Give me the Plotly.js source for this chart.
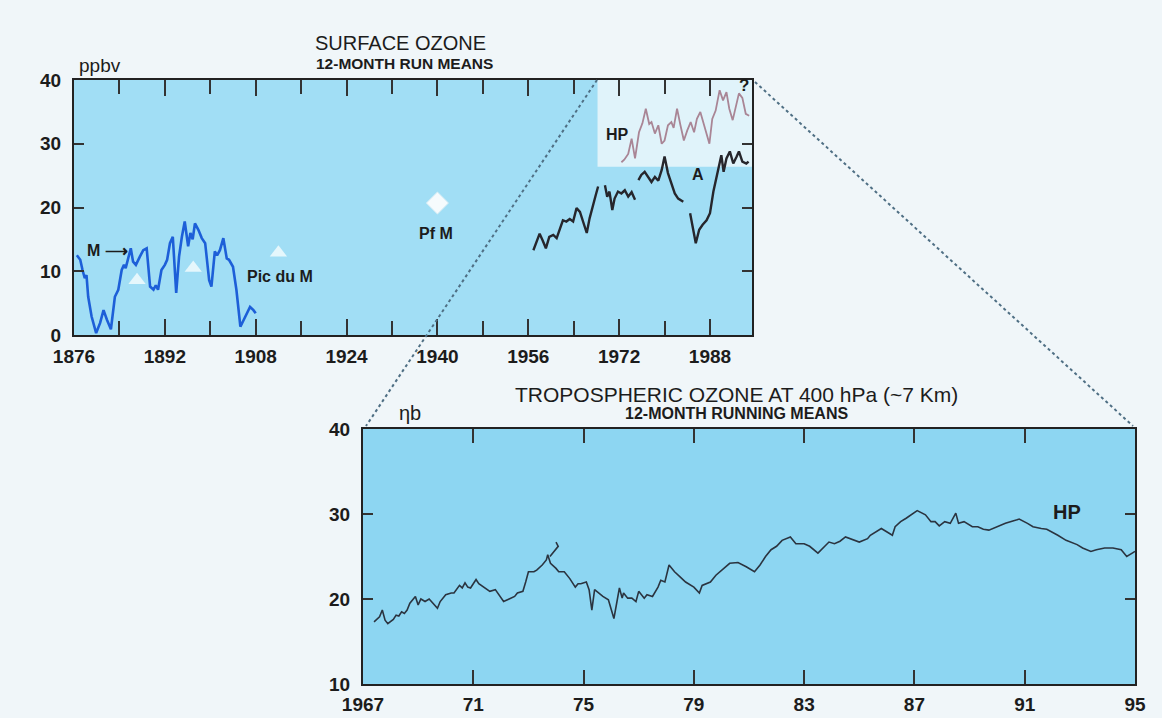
<!DOCTYPE html>
<html>
<head>
<meta charset="utf-8">
<script src="https://cdn.plot.ly/plotly-3.0.1.min.js"></script>
<style>
  html, body { margin: 0; padding: 0; background: #f0f6f9; }
  #chart { width: 1162px; height: 718px; }
</style>
</head>
<body>
<div id="chart"></div>
<script>
// ---- Surface ozone, 12-month running means (ppbv) ----
// Montsouris (Paris), 1876-1910
const montsourisYears = [1876.5,1877.1,1877.5,1877.9,1878.2,1878.5,1879.1,1879.9,1880.6,1881.2,1881.8,1882.5,1883.2,1883.8,1884.4,1884.8,1885.1,1885.6,1886.0,1886.4,1886.9,1887.6,1888.2,1888.8,1889.4,1890.0,1890.4,1890.8,1891.4,1892.0,1892.4,1892.9,1893.4,1894.0,1894.5,1895.0,1895.5,1896.1,1896.5,1896.9,1897.3,1897.9,1898.5,1899.1,1899.4,1899.8,1900.2,1900.8,1901.2,1901.7,1902.3,1902.9,1903.3,1904.0,1904.6,1905.3,1905.9,1906.4,1907.0,1907.6,1908.0];
const montsourisVals  = [12.5,11.8,10.2,8.9,9.4,6.0,2.9,0.3,1.9,3.9,2.4,0.9,6.0,7.1,10.2,11.0,10.5,12.1,13.6,11.5,11.0,12.3,13.3,13.6,7.6,7.1,7.8,7.1,10.2,11.0,11.8,14.4,15.4,6.6,12.3,15.4,17.8,13.9,16.0,15.0,17.5,16.5,15.2,14.4,12.3,8.6,7.6,13.1,12.5,13.3,15.2,12.0,11.8,10.7,7.1,1.3,2.4,3.4,4.4,3.9,3.4];

// Pic du Midi spot values
const picYears = [1887.1, 1897.0, 1912.0];
const picVals  = [8.6, 10.5, 12.9];

// Pfänder / Mont spot value
const pfmYears = [1940];
const pfmVals  = [20.7];

// Arkona series (gaps marked with null)
const arkonaYears = [1956.9,1957.5,1958.0,1958.5,1959.1,1959.7,1960.4,1961.0,1961.6,1962.1,1962.7,1963.3,1963.9,1964.5,1965.1,1965.7,1966.3,1966.8,1967.4,1967.9,1968.3,1968.9,
  1969.5,1969.9,1970.3,1970.8,1971.2,1971.8,1972.4,1973.0,1973.6,1974.2,1974.8,1975.1,
  1975.4,1975.9,1976.5,1977.1,1977.7,1978.3,1978.9,1979.5,1980.0,1980.6,1981.2,1981.8,1982.4,1983.3,1983.9,
  1984.5,1985.0,1985.5,1986.1,1986.7,1987.4,1988.0,1988.6,1989.1,1989.6,1990.0,1990.4,1990.9,1991.5,1992.1,1992.7,1993.1,1993.7,1994.4,1994.8];
const arkonaVals  = [13.3,14.9,15.9,14.9,13.6,15.4,15.7,15.2,16.7,18.0,17.8,18.2,17.8,19.9,19.3,17.5,16.0,18.3,20.1,22.0,23.3,null,
  23.5,21.7,22.5,19.6,21.4,22.5,22.2,22.7,21.7,22.4,21.2,null,
  24.3,25.1,25.6,24.8,24.0,24.8,24.2,25.9,28.0,25.4,23.8,22.2,21.4,20.9,null,
  19.1,17.0,14.4,16.5,17.3,18.0,19.1,22.5,24.5,26.7,28.2,25.6,27.7,28.8,26.9,28.0,28.8,27.2,26.9,27.2];

// Hohenpeissenberg surface series
const hpSurfYears = [1972.4,1972.9,1973.6,1974.2,1974.8,1975.5,1976.1,1976.7,1977.3,1977.7,1978.3,1978.9,1979.5,1980.0,1980.6,1981.2,1981.6,1982.2,1982.8,1983.4,1984.0,1984.6,1985.2,1985.7,1986.3,1987.1,1987.9,1988.4,1989.0,1989.7,1990.3,1990.9,1991.4,1992.0,1992.6,1993.1,1993.7,1994.3,1994.9];
const hpSurfVals  = [27.1,27.5,28.4,30.8,27.7,31.8,33.2,35.5,33.1,33.4,31.6,32.9,30.0,30.5,32.9,33.4,32.5,35.5,32.9,30.5,32.1,33.4,31.8,33.9,35.0,32.4,30.0,33.9,35.2,38.4,36.8,38.1,35.5,33.7,36.3,37.9,37.2,34.7,34.4];

// ---- Tropospheric ozone at 400 hPa, Hohenpeissenberg (nb) ----
const hpTropYears = [1967.4,1967.6,1967.7,1967.8,1967.9,1968.1,1968.2,1968.3,1968.4,1968.5,1968.6,1968.7,1968.9,1969.0,1969.1,1969.25,1969.4,1969.55,1969.7,1969.8,1970.0,1970.2,1970.3,1970.5,1970.6,1970.7,1970.8,1970.9,1971.1,1971.2,1971.4,1971.6,1971.8,1971.9,1972.1,1972.3,1972.5,1972.6,1972.8,1972.9,1973.0,1973.2,1973.3,1973.5,1973.65,1973.7,1973.8,1974.0,1974.1,1974.3,1974.5,1974.7,1974.8,1974.9,1975.1,1975.2,1975.3,1975.4,1975.55,1975.7,1975.9,1976.1,1976.2,1976.3,1976.4,1976.45,1976.6,1976.75,1976.9,1977.0,1977.2,1977.3,1977.5,1977.7,1977.8,1977.95,1978.1,1978.3,1978.5,1978.7,1979.0,1979.2,1979.3,1979.6,1979.8,1980.1,1980.3,1980.6,1980.9,1981.2,1981.4,1981.6,1981.8,1982.0,1982.2,1982.5,1982.7,1983.0,1983.2,1983.5,1983.7,1983.9,1984.1,1984.3,1984.5,1984.8,1985.0,1985.3,1985.4,1985.8,1986.0,1986.2,1986.3,1986.5,1986.7,1986.9,1987.1,1987.4,1987.6,1987.75,1987.9,1988.1,1988.3,1988.5,1988.6,1988.8,1988.95,1989.1,1989.3,1989.5,1989.7,1990.0,1990.3,1990.6,1990.8,1991.1,1991.3,1991.6,1991.8,1992.2,1992.5,1992.9,1993.1,1993.4,1993.6,1993.9,1994.2,1994.5,1994.7,1994.9,1995.0];
const hpTropVals  = [17.3,17.9,18.7,17.5,17.1,17.6,18.1,18.0,18.5,18.3,18.7,19.5,20.3,19.3,20.0,19.7,20.0,19.5,18.9,19.7,20.5,20.7,20.7,21.6,21.3,21.9,21.4,21.3,22.3,21.8,21.4,20.9,21.1,20.6,19.7,20.0,20.3,20.7,20.9,22.0,23.2,23.2,23.4,24.0,24.6,25.2,24.2,23.6,23.2,23.2,22.4,21.4,21.8,21.8,22.0,21.1,18.7,21.1,20.7,20.3,19.9,17.7,19.5,21.3,20.1,20.7,20.1,20.1,19.7,20.9,20.1,20.5,20.3,21.4,22.2,22.0,24.0,23.2,22.6,22.0,21.4,20.7,21.6,22.0,22.8,23.6,24.2,24.3,23.8,23.2,24.0,25.0,25.8,26.2,26.9,27.3,26.5,26.5,26.2,25.4,26.0,26.7,26.5,26.8,27.3,26.9,26.7,27.1,27.5,28.3,27.9,27.5,28.5,29.1,29.5,29.9,30.4,29.9,29.1,29.1,28.6,29.1,28.9,30.1,28.9,29.1,28.8,28.5,28.5,28.2,28.1,28.5,28.9,29.2,29.4,28.9,28.5,28.3,28.2,27.5,26.9,26.4,26.0,25.6,25.8,26.0,26.0,25.8,25.0,25.4,25.6];

// short hooked trace drawn off the 1974 peak
const hookYears = [1973.78, 1974.08, 1974.0];
const hookVals  = [25.0, 26.2, 26.7];

// tick labels of the lower panel
const tropTickYears = [1967, 1971, 1975, 1979, 1983, 1987, 1991, 1995];
const tropTickText  = ['1967', '71', '75', '79', '83', '87', '91', '95'];

// ---- page geometry (pixels -> paper fractions, zero margins) ----
const W = 1162, H = 718;
const px = x => x / W;
const py = y => 1 - y / H;

const FONT = 'Liberation Sans, Arial, sans-serif';
const INK = '#1c1c1c';

const traces = [
  { x: montsourisYears, y: montsourisVals, xaxis: 'x', yaxis: 'y', mode: 'lines',
    line: { color: '#1d5fd8', width: 2.6 }, hoverinfo: 'skip' },
  { x: picYears, y: picVals, xaxis: 'x', yaxis: 'y', mode: 'markers',
    marker: { symbol: 'triangle-up', size: 15, color: 'rgba(236,249,253,0.9)', line: { width: 0 } }, hoverinfo: 'skip' },
  { x: pfmYears, y: pfmVals, xaxis: 'x', yaxis: 'y', mode: 'markers',
    marker: { symbol: 'diamond', size: 17, color: '#f6fbfd', line: { color: '#d6ecf4', width: 1 } }, hoverinfo: 'skip' },
  { x: arkonaYears, y: arkonaVals, xaxis: 'x', yaxis: 'y', mode: 'lines', connectgaps: false,
    line: { color: '#26262c', width: 2.4 }, hoverinfo: 'skip' },
  { x: hpSurfYears, y: hpSurfVals, xaxis: 'x', yaxis: 'y', mode: 'lines',
    line: { color: '#a98595', width: 1.8 }, hoverinfo: 'skip' },
  { x: hpTropYears, y: hpTropVals, xaxis: 'x2', yaxis: 'y2', mode: 'lines',
    line: { color: '#2b3440', width: 1.6 }, hoverinfo: 'skip' },
  { x: hookYears, y: hookVals, xaxis: 'x2', yaxis: 'y2', mode: 'lines',
    line: { color: '#2b3440', width: 1.6 }, hoverinfo: 'skip' }
];

const axisCommon = {
  showline: true, linecolor: '#222', linewidth: 2, mirror: 'allticks',
  ticks: 'inside', tickwidth: 2, tickcolor: '#333',
  showgrid: false, zeroline: false, fixedrange: true,
  tickfont: { family: FONT, size: 19, color: INK, weight: 'bold' }
};

// centred text label at a pixel position
const annText = (text, x, y, size, opts = {}) => Object.assign({
  text, x: px(x), y: py(y), xref: 'paper', yref: 'paper',
  xanchor: 'center', yanchor: 'middle',
  showarrow: false, font: { family: FONT, size, color: INK }
}, opts);
const bold = size => ({ family: FONT, size, color: INK, weight: 'bold' });

const layout = {
  width: W, height: H,
  margin: { l: 0, r: 0, t: 0, b: 0 },
  paper_bgcolor: '#f0f6f9',
  plot_bgcolor: '#a1def5',
  showlegend: false,
  xaxis: Object.assign({}, axisCommon, {
    domain: [px(74), px(752)], range: [1876, 1995.4],
    tick0: 1876, dtick: 16, ticklen: 16, ticklabelstandoff: 3,
    minor: { tick0: 1876, dtick: 8, ticks: 'inside', ticklen: 14, tickwidth: 2, tickcolor: '#333' },
    anchor: 'y'
  }),
  yaxis: Object.assign({}, axisCommon, {
    domain: [py(335), py(80)], range: [0, 40], dtick: 10, ticklen: 10,
    ticklabelstandoff: 7, anchor: 'x'
  }),
  xaxis2: Object.assign({}, axisCommon, {
    domain: [px(363), px(1135)], range: [1967, 1995],
    tickmode: 'array', tickvals: tropTickYears, ticktext: tropTickText,
    ticklen: 14, ticklabelstandoff: 2, anchor: 'y2'
  }),
  yaxis2: Object.assign({}, axisCommon, {
    domain: [py(684), py(429)], range: [10, 40], dtick: 10, ticklen: 10,
    ticklabelstandoff: 7, anchor: 'x2'
  }),
  shapes: [
    // lower panel background
    { type: 'rect', xref: 'x2 domain', yref: 'y2 domain', x0: 0, x1: 1, y0: 0, y1: 1,
      fillcolor: '#8dd6f2', line: { width: 0 }, layer: 'below' },
    // pale inset behind the Hohenpeissenberg surface record
    { type: 'rect', xref: 'x', yref: 'y', x0: 1968.2, x1: 1995.4, y0: 26.4, y1: 40,
      fillcolor: '#e0f3fa', line: { width: 0 }, layer: 'below' },
    // zoom guides from the upper panel to the lower panel
    { type: 'line', xref: 'paper', yref: 'paper', x0: px(597), y0: py(80), x1: px(366), y1: py(426),
      line: { color: '#4f6f84', width: 2, dash: 'dot' }, layer: 'above' },
    { type: 'line', xref: 'paper', yref: 'paper', x0: px(755), y0: py(82), x1: px(1133), y1: py(426),
      line: { color: '#4f6f84', width: 2, dash: 'dot' }, layer: 'above' }
  ],
  annotations: [
    annText('SURFACE OZONE', 400, 43, 20),
    annText('<b>12-MONTH RUN MEANS</b>', 404, 63, 15.5),
    annText('ppbv', 77, 66, 19, { xanchor: 'left' }),
    annText('M \u27F6', 85, 250, 16, { xanchor: 'left', font: bold(16) }),
    annText('Pic du M', 245, 277, 16, { xanchor: 'left', font: bold(16) }),
    annText('Pf M', 417, 233, 16, { xanchor: 'left', font: bold(16) }),
    annText('HP', 604, 134, 16, { xanchor: 'left', font: bold(16) }),
    annText('A', 690, 174, 16, { xanchor: 'left', font: bold(16) }),
    annText('?', 744, 86, 17, { font: bold(17) }),
    annText('TROPOSPHERIC OZONE AT 400 hPa (~7 Km)', 736, 394, 21),
    annText('<b>12-MONTH RUNNING MEANS</b>', 736, 413, 16),
    annText('\u03b7b', 397, 413, 20, { xanchor: 'left' }),
    annText('HP', 1067, 512, 20, { font: bold(20) })
  ]
};

Plotly.newPlot('chart', traces, layout, { staticPlot: true, displayModeBar: false });
</script>
</body>
</html>
